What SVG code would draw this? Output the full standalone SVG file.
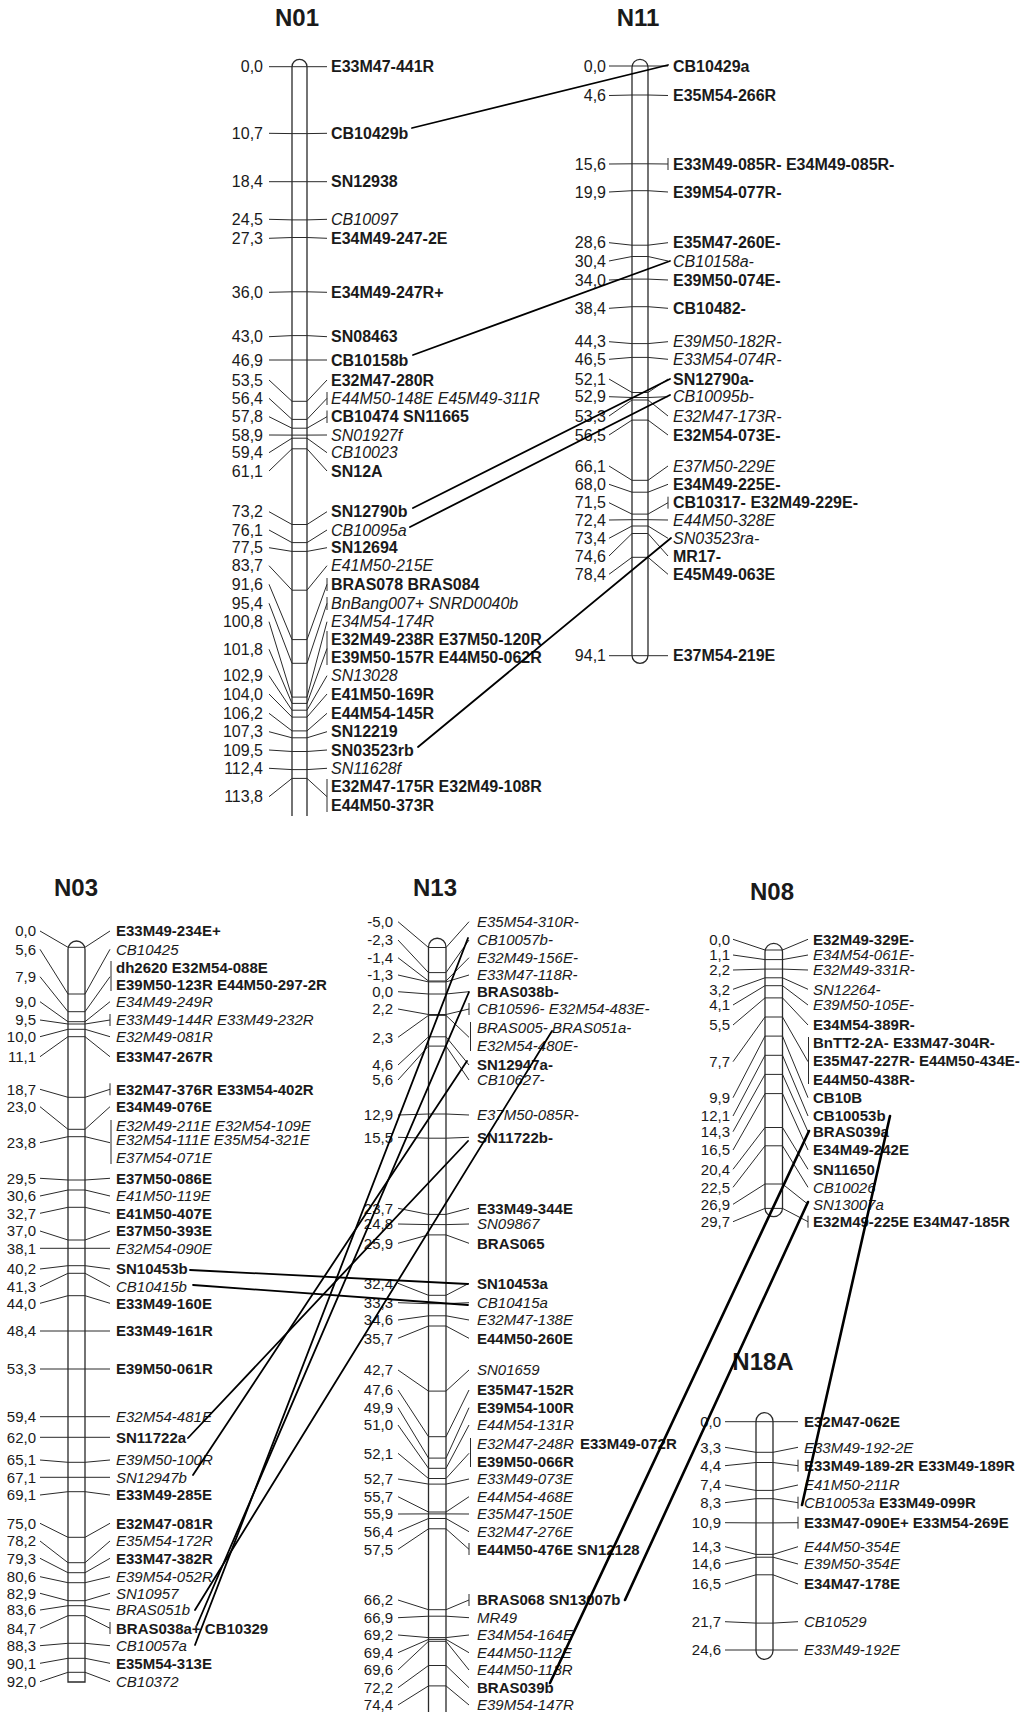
<svg xmlns="http://www.w3.org/2000/svg" width="1027" height="1712" viewBox="0 0 1027 1712">
<style>
text{font-family:"Liberation Sans",Arial,Helvetica,sans-serif;fill:#1a1a1a}
.u text{font-size:16px}
.l text{font-size:15px}
text.n{text-anchor:end}
.b{font-weight:bold}
.i{font-style:italic}
text.t{font-size:24px;font-weight:bold;text-anchor:middle}
.bar{fill:#fff;stroke:#2a2a2a;stroke-width:1.3}
polyline,line.k{fill:none;stroke:#2a2a2a;stroke-width:1}
#connectors line{stroke:#000;stroke-width:1.8;stroke-linecap:round}
#connectors line.w{stroke-width:2.6}
</style>
<rect width="1027" height="1712" fill="#fff"/>

<g id="N01" class="u">
<text class="t" x="297" y="26">N01</text>
<path class="bar" d="M292,816 V66.8 A7.5,7.5 0 0 1 307,66.8 V816"/>
<polyline points="269,66.7 292,66.7 307,66.7 327,66.7"/>
<polyline points="269,133.3 292,133.6 307,133.6 327,133.3"/>
<polyline points="269,181.7 292,181.7 307,181.7 327,181.7"/>
<polyline points="269,219.3 292,219.9 307,219.9 327,219.3"/>
<polyline points="269,238.3 292,237.5 307,237.5 327,238.3"/>
<polyline points="269,292.3 292,291.8 307,291.8 327,292.3"/>
<polyline points="269,336.7 292,335.6 307,335.6 327,336.7"/>
<polyline points="269,360 292,360 307,360 327,360"/>
<polyline points="269,380 292,401.3 307,401.3 327,380"/>
<polyline points="269,398.3 292,419.4 307,419.4 327,398.3"/>
<polyline points="269,416.7 292,428.2 307,428.2 327,416.7"/>
<polyline points="269,435 292,435.1 307,435.1 327,435"/>
<polyline points="269,452.7 292,438.2 307,438.2 327,452.7"/>
<polyline points="269,471 292,448.8 307,448.8 327,471"/>
<polyline points="269,511.7 292,524.5 307,524.5 327,511.7"/>
<polyline points="269,530 292,542.6 307,542.6 327,530"/>
<polyline points="269,547.7 292,551.4 307,551.4 327,547.7"/>
<polyline points="269,565.7 292,590.2 307,590.2 327,565.7"/>
<polyline points="269,584.3 292,639.6 307,639.6 327,584.3"/>
<polyline points="269,603.3 292,663.3 307,663.3 327,603.3"/>
<polyline points="269,621.7 292,697.1 307,697.1 327,621.7"/>
<polyline points="269,649.3 292,703.4 307,703.4 327,648.5"/>
<polyline points="269,675.7 292,710.2 307,710.2 327,675.7"/>
<polyline points="269,694 292,717.1 307,717.1 327,694"/>
<polyline points="269,713.3 292,730.9 307,730.9 327,713.3"/>
<polyline points="269,731.7 292,737.8 307,737.8 327,731.7"/>
<polyline points="269,750 292,751.5 307,751.5 327,750"/>
<polyline points="269,768.3 292,769.6 307,769.6 327,768.3"/>
<polyline points="269,796.7 292,778.4 307,778.4 327,796.7"/>
<line class="k" x1="327" y1="392" x2="327" y2="405"/>
<line class="k" x1="327" y1="410.5" x2="327" y2="423"/>
<line class="k" x1="327" y1="578" x2="327" y2="591"/>
<line class="k" x1="327" y1="597" x2="327" y2="610"/>
<line class="k" x1="327" y1="631" x2="327" y2="665"/>
<line class="k" x1="327" y1="779" x2="327" y2="812"/>
<text class="n" x="263" y="72.2">0,0</text>
<text class="n" x="263" y="138.8">10,7</text>
<text class="n" x="263" y="187.2">18,4</text>
<text class="n" x="263" y="224.8">24,5</text>
<text class="n" x="263" y="243.8">27,3</text>
<text class="n" x="263" y="297.8">36,0</text>
<text class="n" x="263" y="342.2">43,0</text>
<text class="n" x="263" y="365.5">46,9</text>
<text class="n" x="263" y="385.5">53,5</text>
<text class="n" x="263" y="403.8">56,4</text>
<text class="n" x="263" y="422.2">57,8</text>
<text class="n" x="263" y="440.5">58,9</text>
<text class="n" x="263" y="458.2">59,4</text>
<text class="n" x="263" y="476.5">61,1</text>
<text class="n" x="263" y="517.2">73,2</text>
<text class="n" x="263" y="535.5">76,1</text>
<text class="n" x="263" y="553.2">77,5</text>
<text class="n" x="263" y="571.2">83,7</text>
<text class="n" x="263" y="589.8">91,6</text>
<text class="n" x="263" y="608.8">95,4</text>
<text class="n" x="263" y="627.2">100,8</text>
<text class="n" x="263" y="654.8">101,8</text>
<text class="n" x="263" y="681.2">102,9</text>
<text class="n" x="263" y="699.5">104,0</text>
<text class="n" x="263" y="718.8">106,2</text>
<text class="n" x="263" y="737.2">107,3</text>
<text class="n" x="263" y="755.5">109,5</text>
<text class="n" x="263" y="773.8">112,4</text>
<text class="n" x="263" y="802.2">113,8</text>
<text class="b" x="331" y="72.2">E33M47-441R</text>
<text class="b" x="331" y="138.8">CB10429b</text>
<text class="b" x="331" y="187.2">SN12938</text>
<text class="i" x="331" y="224.8">CB10097</text>
<text class="b" x="331" y="243.8">E34M49-247-2E</text>
<text class="b" x="331" y="297.8">E34M49-247R+</text>
<text class="b" x="331" y="342.2">SN08463</text>
<text class="b" x="331" y="365.5">CB10158b</text>
<text class="b" x="331" y="385.5">E32M47-280R</text>
<text class="i" x="331" y="403.8">E44M50-148E E45M49-311R</text>
<text class="b" x="331" y="422.2">CB10474 SN11665</text>
<text class="i" x="331" y="440.5">SN01927f</text>
<text class="i" x="331" y="458.2">CB10023</text>
<text class="b" x="331" y="476.5">SN12A</text>
<text class="b" x="331" y="517.2">SN12790b</text>
<text class="i" x="331" y="535.5">CB10095a</text>
<text class="b" x="331" y="553.2">SN12694</text>
<text class="i" x="331" y="571.2">E41M50-215E</text>
<text class="b" x="331" y="589.8">BRAS078 BRAS084</text>
<text class="i" x="331" y="608.8">BnBang007+ SNRD0040b</text>
<text class="i" x="331" y="627.2">E34M54-174R</text>
<text class="b" x="331" y="644.8">E32M49-238R E37M50-120R</text>
<text class="b" x="331" y="663.2">E39M50-157R E44M50-062R</text>
<text class="i" x="331" y="681.2">SN13028</text>
<text class="b" x="331" y="699.5">E41M50-169R</text>
<text class="b" x="331" y="718.8">E44M54-145R</text>
<text class="b" x="331" y="737.2">SN12219</text>
<text class="b" x="331" y="755.5">SN03523rb</text>
<text class="i" x="331" y="773.8">SN11628f</text>
<text class="b" x="331" y="792.2">E32M47-175R E32M49-108R</text>
<text class="b" x="331" y="810.5">E44M50-373R</text>
</g>

<g id="N11" class="u">
<text class="t" x="638" y="26">N11</text>
<rect class="bar" x="632" y="59.3" width="16" height="604" rx="8"/>
<polyline points="609,66 632,66 648,66 668,66"/>
<polyline points="609,95.5 632,95 648,95 668,95.5"/>
<polyline points="609,164 632,163.8 648,163.8 668,164"/>
<polyline points="609,192 632,190.7 648,190.7 668,192"/>
<polyline points="609,242.7 632,245.2 648,245.2 668,242.7"/>
<polyline points="609,261 632,256.5 648,256.5 668,261"/>
<polyline points="609,280 632,279.1 648,279.1 668,280"/>
<polyline points="609,308.3 632,306.7 648,306.7 668,308.3"/>
<polyline points="609,341.7 632,343.6 648,343.6 668,341.7"/>
<polyline points="609,359.3 632,357.4 648,357.4 668,359.3"/>
<polyline points="609,379 632,392.5 648,392.5 668,379"/>
<polyline points="609,396.7 632,397.5 648,397.5 668,396.7"/>
<polyline points="609,416 632,400 648,400 668,416"/>
<polyline points="609,435 632,420.1 648,420.1 668,435"/>
<polyline points="609,466 632,480.3 648,480.3 668,466"/>
<polyline points="609,484.3 632,492.2 648,492.2 668,484.3"/>
<polyline points="609,502.7 632,514.1 648,514.1 668,502.7"/>
<polyline points="609,520 632,519.7 648,519.7 668,520"/>
<polyline points="609,538.3 632,526 648,526 668,538.3"/>
<polyline points="609,556 632,533.5 648,533.5 668,556"/>
<polyline points="609,574.3 632,557.3 648,557.3 668,574.3"/>
<polyline points="609,655.7 632,655.7 648,655.7 668,655.7"/>
<line class="k" x1="668" y1="158" x2="668" y2="170"/>
<line class="k" x1="668" y1="496.7" x2="668" y2="508.7"/>
<text class="n" x="606" y="71.5">0,0</text>
<text class="n" x="606" y="101">4,6</text>
<text class="n" x="606" y="169.5">15,6</text>
<text class="n" x="606" y="197.5">19,9</text>
<text class="n" x="606" y="248.2">28,6</text>
<text class="n" x="606" y="266.5">30,4</text>
<text class="n" x="606" y="285.5">34,0</text>
<text class="n" x="606" y="313.8">38,4</text>
<text class="n" x="606" y="347.2">44,3</text>
<text class="n" x="606" y="364.8">46,5</text>
<text class="n" x="606" y="384.5">52,1</text>
<text class="n" x="606" y="402.2">52,9</text>
<text class="n" x="606" y="421.5">53,3</text>
<text class="n" x="606" y="440.5">56,5</text>
<text class="n" x="606" y="471.5">66,1</text>
<text class="n" x="606" y="489.8">68,0</text>
<text class="n" x="606" y="508.2">71,5</text>
<text class="n" x="606" y="525.5">72,4</text>
<text class="n" x="606" y="543.8">73,4</text>
<text class="n" x="606" y="561.5">74,6</text>
<text class="n" x="606" y="579.8">78,4</text>
<text class="n" x="606" y="661.2">94,1</text>
<text class="b" x="673" y="71.5">CB10429a</text>
<text class="b" x="673" y="101">E35M54-266R</text>
<text class="b" x="673" y="169.5">E33M49-085R- E34M49-085R-</text>
<text class="b" x="673" y="197.5">E39M54-077R-</text>
<text class="b" x="673" y="248.2">E35M47-260E-</text>
<text class="i" x="673" y="266.5">CB10158a-</text>
<text class="b" x="673" y="285.5">E39M50-074E-</text>
<text class="b" x="673" y="313.8">CB10482-</text>
<text class="i" x="673" y="347.2">E39M50-182R-</text>
<text class="i" x="673" y="364.8">E33M54-074R-</text>
<text class="b" x="673" y="384.5">SN12790a-</text>
<text class="i" x="673" y="402.2">CB10095b-</text>
<text class="i" x="673" y="421.5">E32M47-173R-</text>
<text class="b" x="673" y="440.5">E32M54-073E-</text>
<text class="i" x="673" y="471.5">E37M50-229E</text>
<text class="b" x="673" y="489.8">E34M49-225E-</text>
<text class="b" x="673" y="508.2">CB10317- E32M49-229E-</text>
<text class="i" x="673" y="525.5">E44M50-328E</text>
<text class="i" x="673" y="543.8">SN03523ra-</text>
<text class="b" x="673" y="561.5">MR17-</text>
<text class="b" x="673" y="579.8">E45M49-063E</text>
<text class="b" x="673" y="661.2">E37M54-219E</text>
</g>

<g id="N03" class="l">
<text class="t" x="76" y="896">N03</text>
<path class="bar" d="M68,1682 V949.5 A8.5,8.5 0 0 1 85,949.5 V1682 Z"/>
<polyline points="40,931 68,947.3 85,947.3 110,931"/>
<polyline points="40,949.3 68,994 85,994 110,949.3"/>
<polyline points="40,976.7 68,1011.7 85,1011.7 110,976.7"/>
<polyline points="40,1001.7 68,1021.7 85,1021.7 110,1001.7"/>
<polyline points="40,1020 68,1024 85,1024 110,1020"/>
<polyline points="40,1036.7 68,1029.3 85,1029.3 110,1036.7"/>
<polyline points="40,1056.7 68,1036.7 85,1036.7 110,1056.7"/>
<polyline points="40,1089.3 68,1097.3 85,1097.3 110,1089.3"/>
<polyline points="40,1106.7 68,1129.3 85,1129.3 110,1106.7"/>
<polyline points="40,1142.7 68,1136.7 85,1136.7 110,1142.7"/>
<polyline points="40,1178.3 68,1180 85,1180 110,1178.3"/>
<polyline points="40,1196 68,1190 85,1190 110,1196"/>
<polyline points="40,1213.3 68,1207.3 85,1207.3 110,1213.3"/>
<polyline points="40,1231 68,1240 85,1240 110,1231"/>
<polyline points="40,1248.3 68,1248.3 85,1248.3 110,1248.3"/>
<polyline points="40,1269 68,1265.7 85,1265.7 110,1269"/>
<polyline points="40,1286.7 68,1273.3 85,1273.3 110,1286.7"/>
<polyline points="40,1303.3 68,1295.7 85,1295.7 110,1303.3"/>
<polyline points="40,1331 68,1331 85,1331 110,1331"/>
<polyline points="40,1369 68,1369 85,1369 110,1369"/>
<polyline points="40,1416.7 68,1416.7 85,1416.7 110,1416.7"/>
<polyline points="40,1437.3 68,1437.3 85,1437.3 110,1437.3"/>
<polyline points="40,1460 68,1462.3 85,1462.3 110,1460"/>
<polyline points="40,1477.3 68,1477.3 85,1477.3 110,1477.3"/>
<polyline points="40,1495 68,1491.7 85,1491.7 110,1495"/>
<polyline points="40,1523.3 68,1537.3 85,1537.3 110,1523.3"/>
<polyline points="40,1541 68,1562.7 85,1562.7 110,1541"/>
<polyline points="40,1558.3 68,1572.7 85,1572.7 110,1558.3"/>
<polyline points="40,1576.7 68,1582.7 85,1582.7 110,1576.7"/>
<polyline points="40,1593.3 68,1600.7 85,1600.7 110,1593.3"/>
<polyline points="40,1610 68,1605.7 85,1605.7 110,1610"/>
<polyline points="40,1628.3 68,1615.7 85,1615.7 110,1628.3"/>
<polyline points="40,1645.7 68,1643.3 85,1643.3 110,1645.7"/>
<polyline points="40,1663.3 68,1658.3 85,1658.3 110,1663.3"/>
<polyline points="40,1681.7 68,1672.3 85,1672.3 110,1681.7"/>
<line class="k" x1="111" y1="961" x2="111" y2="991"/>
<line class="k" x1="110" y1="1014" x2="110" y2="1026"/>
<line class="k" x1="110" y1="1083.3" x2="110" y2="1095.3"/>
<line class="k" x1="111" y1="1120" x2="111" y2="1164"/>
<line class="k" x1="110" y1="1622" x2="110" y2="1634"/>
<text class="n" x="36" y="936.4">0,0</text>
<text class="n" x="36" y="954.7">5,6</text>
<text class="n" x="36" y="982.1">7,9</text>
<text class="n" x="36" y="1007.1">9,0</text>
<text class="n" x="36" y="1025.4">9,5</text>
<text class="n" x="36" y="1042.1">10,0</text>
<text class="n" x="36" y="1062.1">11,1</text>
<text class="n" x="36" y="1094.7">18,7</text>
<text class="n" x="36" y="1112.1">23,0</text>
<text class="n" x="36" y="1148.1">23,8</text>
<text class="n" x="36" y="1183.7">29,5</text>
<text class="n" x="36" y="1201.4">30,6</text>
<text class="n" x="36" y="1218.7">32,7</text>
<text class="n" x="36" y="1236.4">37,0</text>
<text class="n" x="36" y="1253.7">38,1</text>
<text class="n" x="36" y="1274.4">40,2</text>
<text class="n" x="36" y="1292.1">41,3</text>
<text class="n" x="36" y="1308.7">44,0</text>
<text class="n" x="36" y="1336.4">48,4</text>
<text class="n" x="36" y="1374.4">53,3</text>
<text class="n" x="36" y="1422.1">59,4</text>
<text class="n" x="36" y="1442.7">62,0</text>
<text class="n" x="36" y="1465.4">65,1</text>
<text class="n" x="36" y="1482.7">67,1</text>
<text class="n" x="36" y="1500.4">69,1</text>
<text class="n" x="36" y="1528.7">75,0</text>
<text class="n" x="36" y="1546.4">78,2</text>
<text class="n" x="36" y="1563.7">79,3</text>
<text class="n" x="36" y="1582.1">80,6</text>
<text class="n" x="36" y="1598.7">82,9</text>
<text class="n" x="36" y="1615.4">83,6</text>
<text class="n" x="36" y="1633.7">84,7</text>
<text class="n" x="36" y="1651.1">88,3</text>
<text class="n" x="36" y="1668.7">90,1</text>
<text class="n" x="36" y="1687.1">92,0</text>
<text class="b" x="116" y="936.4">E33M49-234E+</text>
<text class="i" x="116" y="954.7">CB10425</text>
<text class="b" x="116" y="973.1">dh2620 E32M54-088E</text>
<text class="b" x="116" y="990.4">E39M50-123R E44M50-297-2R</text>
<text class="i" x="116" y="1007.1">E34M49-249R</text>
<text class="i" x="116" y="1025.4">E33M49-144R E33M49-232R</text>
<text class="i" x="116" y="1042.1">E32M49-081R</text>
<text class="b" x="116" y="1062.1">E33M47-267R</text>
<text class="b" x="116" y="1094.7">E32M47-376R E33M54-402R</text>
<text class="b" x="116" y="1112.1">E34M49-076E</text>
<text class="i" x="116" y="1131.1">E32M49-211E E32M54-109E</text>
<text class="i" x="116" y="1145.4">E32M54-111E E35M54-321E</text>
<text class="i" x="116" y="1163.1">E37M54-071E</text>
<text class="b" x="116" y="1183.7">E37M50-086E</text>
<text class="i" x="116" y="1201.4">E41M50-119E</text>
<text class="b" x="116" y="1218.7">E41M50-407E</text>
<text class="b" x="116" y="1236.4">E37M50-393E</text>
<text class="i" x="116" y="1253.7">E32M54-090E</text>
<text class="b" x="116" y="1274.4">SN10453b</text>
<text class="i" x="116" y="1292.1">CB10415b</text>
<text class="b" x="116" y="1308.7">E33M49-160E</text>
<text class="b" x="116" y="1336.4">E33M49-161R</text>
<text class="b" x="116" y="1374.4">E39M50-061R</text>
<text class="i" x="116" y="1422.1">E32M54-481E</text>
<text class="b" x="116" y="1442.7">SN11722a</text>
<text class="i" x="116" y="1465.4">E39M50-100R</text>
<text class="i" x="116" y="1482.7">SN12947b</text>
<text class="b" x="116" y="1500.4">E33M49-285E</text>
<text class="b" x="116" y="1528.7">E32M47-081R</text>
<text class="i" x="116" y="1546.4">E35M54-172R</text>
<text class="b" x="116" y="1563.7">E33M47-382R</text>
<text class="i" x="116" y="1582.1">E39M54-052R</text>
<text class="i" x="116" y="1598.7">SN10957</text>
<text class="i" x="116" y="1615.4">BRAS051b</text>
<text class="b" x="116" y="1633.7">BRAS038a+ CB10329</text>
<text class="i" x="116" y="1651.1">CB10057a</text>
<text class="b" x="116" y="1668.7">E35M54-313E</text>
<text class="i" x="116" y="1687.1">CB10372</text>
</g>

<g id="N13" class="l">
<text class="t" x="435" y="896">N13</text>
<path class="bar" d="M428.5,1712 V947 A8.75,8.75 0 0 1 446,947 V1712"/>
<polyline points="398,921.7 428.5,947.5 446,947.5 469,921.7"/>
<polyline points="398,940 428.5,972.6 446,972.6 469,940"/>
<polyline points="398,957.7 428.5,981 446,981 469,957.7"/>
<polyline points="398,975 428.5,981.9 446,981.9 469,975"/>
<polyline points="398,991.7 428.5,994 446,994 469,991.7"/>
<polyline points="398,1009 428.5,1014.5 446,1014.5 469,1009"/>
<polyline points="398,1037.3 428.5,1015.4 446,1015.4 469,1037.3"/>
<polyline points="398,1065 428.5,1036.8 446,1036.8 469,1065"/>
<polyline points="398,1080 428.5,1046.1 446,1046.1 469,1080"/>
<polyline points="398,1115 428.5,1114 446,1114 469,1115"/>
<polyline points="398,1137.3 428.5,1138.2 446,1138.2 469,1137.3"/>
<polyline points="398,1208.3 428.5,1214.4 446,1214.4 469,1208.3"/>
<polyline points="398,1224 428.5,1224.6 446,1224.6 469,1224"/>
<polyline points="398,1243.3 428.5,1234.9 446,1234.9 469,1243.3"/>
<polyline points="398,1283.3 428.5,1295.3 446,1295.3 469,1283.3"/>
<polyline points="398,1302.7 428.5,1303.7 446,1303.7 469,1302.7"/>
<polyline points="398,1320 428.5,1315.8 446,1315.8 469,1320"/>
<polyline points="398,1338.3 428.5,1326 446,1326 469,1338.3"/>
<polyline points="398,1370 428.5,1391.1 446,1391.1 469,1370"/>
<polyline points="398,1390 428.5,1436.7 446,1436.7 469,1390"/>
<polyline points="398,1407.7 428.5,1458.1 446,1458.1 469,1407.7"/>
<polyline points="398,1425 428.5,1468.3 446,1468.3 469,1425"/>
<polyline points="398,1453.3 428.5,1478.5 446,1478.5 469,1453.3"/>
<polyline points="398,1479 428.5,1484.1 446,1484.1 469,1479"/>
<polyline points="398,1496.7 428.5,1512 446,1512 469,1496.7"/>
<polyline points="398,1514 428.5,1513.9 446,1513.9 469,1514"/>
<polyline points="398,1531.7 428.5,1518.5 446,1518.5 469,1531.7"/>
<polyline points="398,1549.3 428.5,1528.8 446,1528.8 469,1549.3"/>
<polyline points="398,1600 428.5,1609.7 446,1609.7 469,1600"/>
<polyline points="398,1617.7 428.5,1616.2 446,1616.2 469,1617.7"/>
<polyline points="398,1635 428.5,1637.6 446,1637.6 469,1635"/>
<polyline points="398,1652.7 428.5,1639.4 446,1639.4 469,1652.7"/>
<polyline points="398,1670 428.5,1641.3 446,1641.3 469,1670"/>
<polyline points="398,1687.7 428.5,1665.5 446,1665.5 469,1687.7"/>
<polyline points="398,1705 428.5,1685.9 446,1685.9 469,1705"/>
<line class="k" x1="469" y1="1003" x2="469" y2="1015"/>
<line class="k" x1="470.5" y1="1022" x2="470.5" y2="1051"/>
<line class="k" x1="470.5" y1="1438" x2="470.5" y2="1467"/>
<line class="k" x1="469" y1="1543" x2="469" y2="1555"/>
<line class="k" x1="469" y1="1594" x2="469" y2="1606"/>
<text class="n" x="393" y="927.1">-5,0</text>
<text class="n" x="393" y="945.4">-2,3</text>
<text class="n" x="393" y="963.1">-1,4</text>
<text class="n" x="393" y="980.4">-1,3</text>
<text class="n" x="393" y="997.1">0,0</text>
<text class="n" x="393" y="1014.4">2,2</text>
<text class="n" x="393" y="1042.7">2,3</text>
<text class="n" x="393" y="1070.4">4,6</text>
<text class="n" x="393" y="1085.4">5,6</text>
<text class="n" x="393" y="1120.4">12,9</text>
<text class="n" x="393" y="1142.7">15,5</text>
<text class="n" x="393" y="1213.7">23,7</text>
<text class="n" x="393" y="1229.4">24,8</text>
<text class="n" x="393" y="1248.7">25,9</text>
<text class="n" x="393" y="1288.7">32,4</text>
<text class="n" x="393" y="1308.1">33,3</text>
<text class="n" x="393" y="1325.4">34,6</text>
<text class="n" x="393" y="1343.7">35,7</text>
<text class="n" x="393" y="1375.4">42,7</text>
<text class="n" x="393" y="1395.4">47,6</text>
<text class="n" x="393" y="1413.1">49,9</text>
<text class="n" x="393" y="1430.4">51,0</text>
<text class="n" x="393" y="1458.7">52,1</text>
<text class="n" x="393" y="1484.4">52,7</text>
<text class="n" x="393" y="1502.1">55,7</text>
<text class="n" x="393" y="1519.4">55,9</text>
<text class="n" x="393" y="1537.1">56,4</text>
<text class="n" x="393" y="1554.7">57,5</text>
<text class="n" x="393" y="1605.4">66,2</text>
<text class="n" x="393" y="1623.1">66,9</text>
<text class="n" x="393" y="1640.4">69,2</text>
<text class="n" x="393" y="1658.1">69,4</text>
<text class="n" x="393" y="1675.4">69,6</text>
<text class="n" x="393" y="1693.1">72,2</text>
<text class="n" x="393" y="1710.4">74,4</text>
<text class="i" x="477" y="927.1">E35M54-310R-</text>
<text class="i" x="477" y="945.4">CB10057b-</text>
<text class="i" x="477" y="963.1">E32M49-156E-</text>
<text class="i" x="477" y="980.4">E33M47-118R-</text>
<text class="b" x="477" y="997.1">BRAS038b-</text>
<text class="i" x="477" y="1014.4">CB10596- E32M54-483E-</text>
<text class="i" x="477" y="1033.1">BRAS005- BRAS051a-</text>
<text class="i" x="477" y="1051.1">E32M54-480E-</text>
<text class="b" x="477" y="1070.4">SN12947a-</text>
<text class="i" x="477" y="1085.4">CB10627-</text>
<text class="i" x="477" y="1120.4">E37M50-085R-</text>
<text class="b" x="477" y="1142.7">SN11722b-</text>
<text class="b" x="477" y="1213.7">E33M49-344E</text>
<text class="i" x="477" y="1229.4">SN09867</text>
<text class="b" x="477" y="1248.7">BRAS065</text>
<text class="b" x="477" y="1288.7">SN10453a</text>
<text class="i" x="477" y="1308.1">CB10415a</text>
<text class="i" x="477" y="1325.4">E32M47-138E</text>
<text class="b" x="477" y="1343.7">E44M50-260E</text>
<text class="i" x="477" y="1375.4">SN01659</text>
<text class="b" x="477" y="1395.4">E35M47-152R</text>
<text class="b" x="477" y="1413.1">E39M54-100R</text>
<text class="i" x="477" y="1430.4">E44M54-131R</text>
<text class="i" x="477" y="1448.7">E32M47-248R</text>
<text class="b" x="580" y="1448.7">E33M49-072R</text>
<text class="b" x="477" y="1467.1">E39M50-066R</text>
<text class="i" x="477" y="1484.4">E33M49-073E</text>
<text class="i" x="477" y="1502.1">E44M54-468E</text>
<text class="i" x="477" y="1519.4">E35M47-150E</text>
<text class="i" x="477" y="1537.1">E32M47-276E</text>
<text class="b" x="477" y="1554.7">E44M50-476E SN12128</text>
<text class="b" x="477" y="1605.4">BRAS068 SN13007b</text>
<text class="i" x="477" y="1623.1">MR49</text>
<text class="i" x="477" y="1640.4">E34M54-164E</text>
<text class="i" x="477" y="1658.1">E44M50-112E</text>
<text class="i" x="477" y="1675.4">E44M50-118R</text>
<text class="b" x="477" y="1693.1">BRAS039b</text>
<text class="i" x="477" y="1710.4">E39M54-147R</text>
</g>

<g id="N08" class="l">
<text class="t" x="772" y="900">N08</text>
<rect class="bar" x="765" y="943.3" width="17.5" height="273.4" rx="8.75"/>
<polyline points="733,939.3 765,950 782.5,950 808,939.3"/>
<polyline points="733,955 765,959.6 782.5,959.6 808,955"/>
<polyline points="733,970 765,969.1 782.5,969.1 808,970"/>
<polyline points="733,989.3 765,977.8 782.5,977.8 808,989.3"/>
<polyline points="733,1005 765,985.7 782.5,985.7 808,1005"/>
<polyline points="733,1025 765,997.9 782.5,997.9 808,1025"/>
<polyline points="733,1061.7 765,1017 782.5,1017 808,1061.7"/>
<polyline points="733,1097.7 765,1036.1 782.5,1036.1 808,1097.7"/>
<polyline points="733,1116 765,1055.3 782.5,1055.3 808,1116"/>
<polyline points="733,1131.7 765,1074.4 782.5,1074.4 808,1131.7"/>
<polyline points="733,1150 765,1093.6 782.5,1093.6 808,1150"/>
<polyline points="733,1169.3 765,1127.5 782.5,1127.5 808,1169.3"/>
<polyline points="733,1187.3 765,1145.8 782.5,1145.8 808,1187.3"/>
<polyline points="733,1204.3 765,1184 782.5,1184 808,1204.3"/>
<polyline points="733,1221.7 765,1208.4 782.5,1208.4 808,1221.7"/>
<line class="k" x1="808.5" y1="1037" x2="808.5" y2="1084"/>
<line class="k" x1="808" y1="1215.7" x2="808" y2="1227.7"/>
<text class="n" x="730" y="944.7">0,0</text>
<text class="n" x="730" y="960.4">1,1</text>
<text class="n" x="730" y="975.4">2,2</text>
<text class="n" x="730" y="994.7">3,2</text>
<text class="n" x="730" y="1010.4">4,1</text>
<text class="n" x="730" y="1030.4">5,5</text>
<text class="n" x="730" y="1067.1">7,7</text>
<text class="n" x="730" y="1103.1">9,9</text>
<text class="n" x="730" y="1121.4">12,1</text>
<text class="n" x="730" y="1137.1">14,3</text>
<text class="n" x="730" y="1155.4">16,5</text>
<text class="n" x="730" y="1174.7">20,4</text>
<text class="n" x="730" y="1192.7">22,5</text>
<text class="n" x="730" y="1209.7">26,9</text>
<text class="n" x="730" y="1227.1">29,7</text>
<text class="b" x="813" y="944.7">E32M49-329E-</text>
<text class="i" x="813" y="960.4">E34M54-061E-</text>
<text class="i" x="813" y="975.4">E32M49-331R-</text>
<text class="i" x="813" y="994.7">SN12264-</text>
<text class="i" x="813" y="1010.4">E39M50-105E-</text>
<text class="b" x="813" y="1030.4">E34M54-389R-</text>
<text class="b" x="813" y="1048.1">BnTT2-2A- E33M47-304R-</text>
<text class="b" x="813" y="1066.1">E35M47-227R- E44M50-434E-</text>
<text class="b" x="813" y="1084.7">E44M50-438R-</text>
<text class="b" x="813" y="1103.1">CB10B</text>
<text class="b" x="813" y="1121.4">CB10053b</text>
<text class="b" x="813" y="1137.1">BRAS039a</text>
<text class="b" x="813" y="1155.4">E34M49-242E</text>
<text class="b" x="813" y="1174.7">SN11650</text>
<text class="i" x="813" y="1192.7">CB10026</text>
<text class="i" x="813" y="1209.7">SN13007a</text>
<text class="b" x="813" y="1227.1">E32M49-225E E34M47-185R</text>
</g>

<g id="N18A" class="l">
<text class="t" x="763" y="1370">N18A</text>
<rect class="bar" x="756" y="1412.7" width="17" height="246.6" rx="8.5"/>
<polyline points="725,1421.7 756,1421.7 773,1421.7 798,1421.7"/>
<polyline points="725,1447.3 756,1452.3 773,1452.3 798,1447.3"/>
<polyline points="725,1465.7 756,1462.5 773,1462.5 798,1465.7"/>
<polyline points="725,1485 756,1490.4 773,1490.4 798,1485"/>
<polyline points="725,1502.7 756,1498.7 773,1498.7 798,1502.7"/>
<polyline points="725,1522.7 756,1522.9 773,1522.9 798,1522.7"/>
<polyline points="725,1546.7 756,1554.4 773,1554.4 798,1546.7"/>
<polyline points="725,1564 756,1557.2 773,1557.2 798,1564"/>
<polyline points="725,1584 756,1574.8 773,1574.8 798,1584"/>
<polyline points="725,1621.7 756,1623.1 773,1623.1 798,1621.7"/>
<polyline points="725,1650 756,1650 773,1650 798,1650"/>
<line class="k" x1="798" y1="1459.7" x2="798" y2="1471.7"/>
<line class="k" x1="798" y1="1496.7" x2="798" y2="1508.7"/>
<line class="k" x1="798" y1="1516.7" x2="798" y2="1528.7"/>
<text class="n" x="721" y="1427.1">0,0</text>
<text class="n" x="721" y="1452.7">3,3</text>
<text class="n" x="721" y="1471.1">4,4</text>
<text class="n" x="721" y="1490.4">7,4</text>
<text class="n" x="721" y="1508.1">8,3</text>
<text class="n" x="721" y="1528.1">10,9</text>
<text class="n" x="721" y="1552.1">14,3</text>
<text class="n" x="721" y="1569.4">14,6</text>
<text class="n" x="721" y="1589.4">16,5</text>
<text class="n" x="721" y="1627.1">21,7</text>
<text class="n" x="721" y="1655.4">24,6</text>
<text class="b" x="804" y="1427.1">E32M47-062E</text>
<text class="i" x="804" y="1452.7">E33M49-192-2E</text>
<text class="b" x="804" y="1471.1">E33M49-189-2R E33M49-189R</text>
<text class="i" x="804" y="1490.4">E41M50-211R</text>
<text x="804" y="1508.1"><tspan class="i">CB10053a</tspan> <tspan class="b">E33M49-099R</tspan></text>
<text class="b" x="804" y="1528.1">E33M47-090E+ E33M54-269E</text>
<text class="i" x="804" y="1552.1">E44M50-354E</text>
<text class="i" x="804" y="1569.4">E39M50-354E</text>
<text class="b" x="804" y="1589.4">E34M47-178E</text>
<text class="i" x="804" y="1627.1">CB10529</text>
<text class="i" x="804" y="1655.4">E33M49-192E</text>
</g>

<g id="connectors">
<line x1="412" y1="128" x2="668" y2="65"/>
<line x1="413" y1="355" x2="670" y2="261"/>
<line x1="413" y1="508" x2="670" y2="379"/>
<line x1="410" y1="527" x2="670" y2="395"/>
<line x1="418" y1="747" x2="671" y2="538"/>
<line x1="190" y1="1270" x2="468" y2="1284"/>
<line x1="193" y1="1285" x2="468" y2="1305"/>
<line x1="188" y1="1438" x2="468" y2="1141"/>
<line x1="193" y1="1475" x2="467" y2="1061"/>
<line x1="195" y1="1610" x2="552" y2="1031"/>
<line x1="197" y1="1625" x2="469" y2="992"/>
<line x1="195" y1="1645" x2="468" y2="938"/>
<line class="w" x1="550" y1="1683" x2="809" y2="1131"/>
<line class="w" x1="625" y1="1600" x2="808" y2="1202"/>
<line class="w" x1="890" y1="1116" x2="802" y2="1505"/>
</g>
</svg>
